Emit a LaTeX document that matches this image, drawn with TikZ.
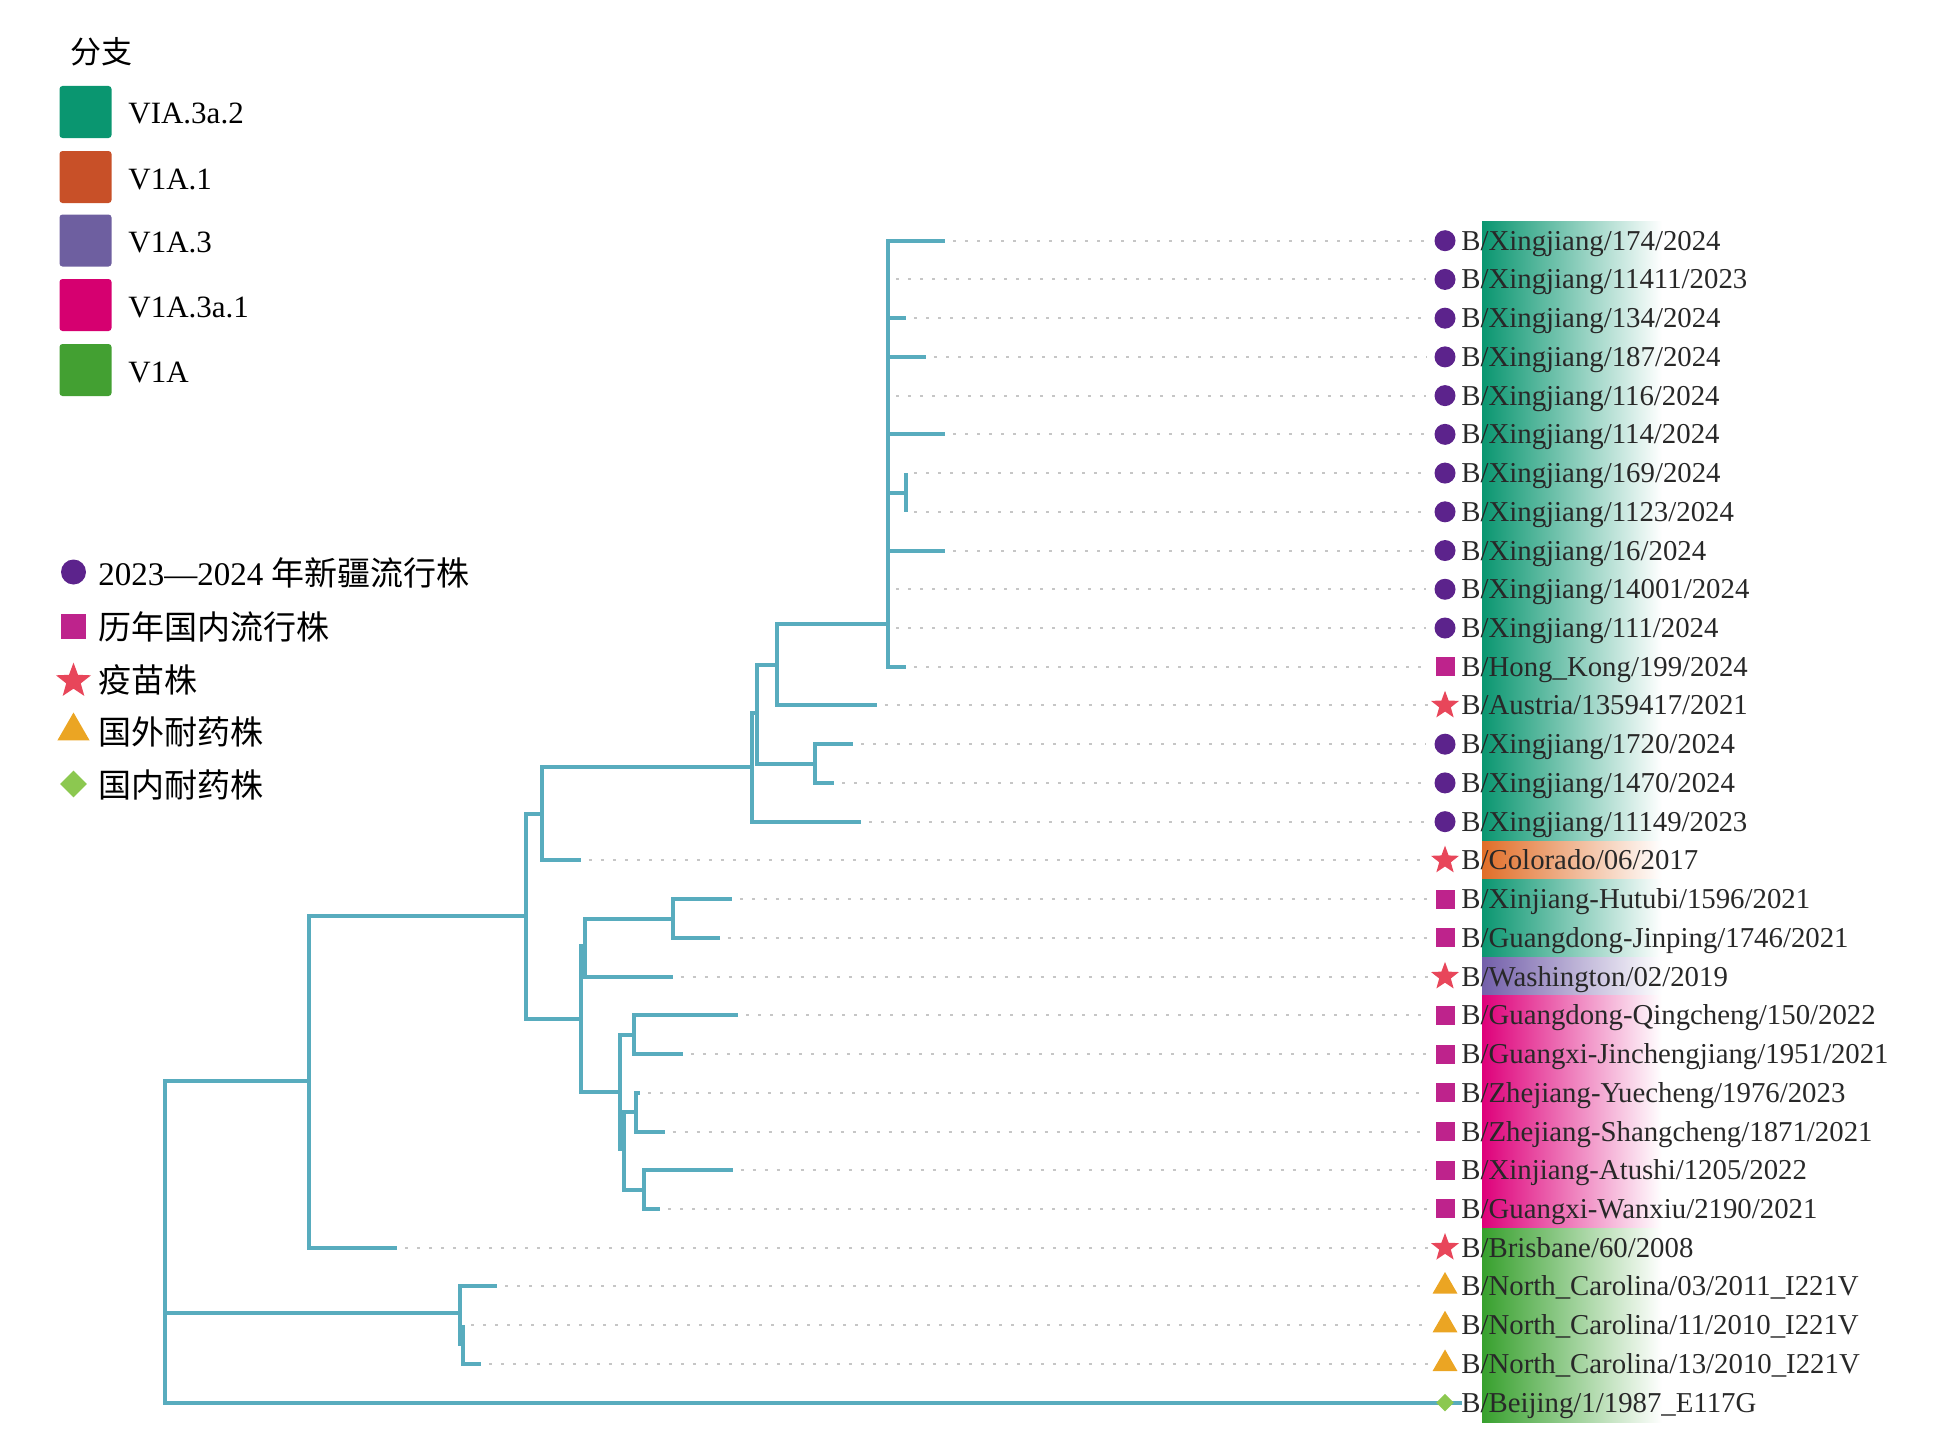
\documentclass[tikz,border=0pt]{standalone}
\usepackage{fontspec}
\setmainfont{Liberation Serif}
\newfontfamily\cjk{Noto Sans CJK SC}
\usetikzlibrary{shapes.geometric}
\definecolor{treec}{RGB}{88,172,190}
\definecolor{cpur}{RGB}{92,35,140}
\definecolor{csq}{RGB}{190,35,140}
\definecolor{cstar}{RGB}{232,70,90}
\definecolor{ctri}{RGB}{235,165,35}
\definecolor{cdia}{RGB}{140,200,80}
\definecolor{kA}{RGB}{10,150,112}
\definecolor{kB}{RGB}{200,80,40}
\definecolor{kC}{RGB}{110,95,160}
\definecolor{kD}{RGB}{214,0,112}
\definecolor{kE}{RGB}{67,160,50}
\definecolor{bA}{RGB}{10,150,112}
\definecolor{bB}{RGB}{225,110,40}
\definecolor{bC}{RGB}{115,95,170}
\definecolor{bD}{RGB}{222,0,122}
\definecolor{bE}{RGB}{55,160,45}
\definecolor{txt}{RGB}{40,40,40}
\newcommand\tiprow[3]{%
  \node[#2] (s#1) at (1445,{240.7+38.73*#1}) {};
  \node[lbl] (l#1) at (1461,{240.7+38.73*#1+9.5}) {B/#3};}
\begin{document}
\begin{tikzpicture}[x=0.5pt,y=-0.5pt,
  branch/.style={draw=treec,line width=2pt},
  leader/.style={draw=gray!45,line width=1pt,dash pattern=on 1.5pt off 4.5pt,shorten <=4pt,shorten >=4pt},
  lbl/.style={anchor=base west,inner sep=0pt,text=txt,font=\fontsize{14.4}{16}\selectfont},
  mcirc/.style={circle,fill=cpur,inner sep=0pt,minimum size=10.5pt},
  msq/.style={rectangle,fill=csq,inner sep=0pt,minimum size=9.5pt},
  mstar/.style={star,star points=5,star point ratio=2.4,fill=cstar,inner sep=0pt,minimum size=14.7pt},
  mtri/.style={regular polygon,regular polygon sides=3,fill=ctri,inner sep=0pt,minimum size=14.4pt},
  mdia/.style={diamond,fill=cdia,inner sep=0pt,minimum size=9pt},
  legsq/.style={rectangle,rounded corners=1.5pt,inner sep=0pt,minimum size=26pt},
  legtxt/.style={anchor=base west,inner sep=0pt,font=\fontsize{15.5}{18}\selectfont},
  legtxt2/.style={anchor=base west,inner sep=0pt,font=\fontsize{16.5}{19}\selectfont}]
\useasboundingbox (0,0) rectangle (1937,1445);

% ---- legend 1
\node[anchor=base west,inner sep=0pt,font=\cjk\fontsize{15.5}{18}\selectfont] (ttl) at (70,63.5) {分支};
\node[legsq,fill=kA] (k1) at (85.5,112) {};
\node[legsq,fill=kB] (k2) at (85.5,177) {};
\node[legsq,fill=kC] (k3) at (85.5,240.5) {};
\node[legsq,fill=kD] (k4) at (85.5,305) {};
\node[legsq,fill=kE] (k5) at (85.5,370) {};
\node[legtxt] (k1t) at (128,124) {VIA.3a.2};
\node[legtxt] (k2t) at (128,189) {V1A.1};
\node[legtxt] (k3t) at (128,252.5) {V1A.3};
\node[legtxt] (k4t) at (128,317) {V1A.3a.1};
\node[legtxt] (k5t) at (128,382) {V1A};

% ---- legend 2
\node[mcirc,minimum size=12.5pt] (m1) at (73.5,572) {};
\node[msq,minimum size=12.5pt] (m2) at (73.5,626) {};
\node[mstar,minimum size=18.4pt] (m3) at (73.5,681) {};
\node[mtri,minimum size=18.5pt] (m4) at (73.5,731) {};
\node[mdia,minimum size=13.5pt] (m5) at (73.5,784) {};
\node[legtxt2] (m1t) at (98,585) {2023—2024 {\cjk 年新疆流行株}};
\node[legtxt2] (m2t) at (98,639) {\cjk 历年国内流行株};
\node[legtxt2] (m3t) at (98,692) {\cjk 疫苗株};
\node[legtxt2] (m4t) at (98,744) {\cjk 国外耐药株};
\node[legtxt2] (m5t) at (98,797) {\cjk 国内耐药株};

% ---- colour bands
\shade[left color=bA,right color=white] (1482,221.3) rectangle (1662,841.1);
\shade[left color=bB,right color=white] (1482,841.1) rectangle (1662,879.8);
\shade[left color=bA,right color=white] (1482,879.8) rectangle (1662,957.2);
\shade[left color=bC,right color=white] (1482,957.2) rectangle (1662,995.9);
\shade[left color=bD,right color=white] (1482,995.9) rectangle (1662,1228.3);
\shade[left color=bE,right color=white] (1482,1228.3) rectangle (1662,1422.0);

% ---- tip coordinates
\foreach \i/\tx in {0/945,1/888,2/906,3/926,4/888,5/945,6/906,7/906,8/945,9/888,10/888,11/906,
  12/876.7,13/853,14/834,15/861,16/580.8,17/731.8,18/719.6,19/672.7,20/738,21/682.9,22/640,
  23/664.5,24/732.7,25/660.4,26/397.1,27/497,28/463,29/480.8,30/1462}
  \coordinate (t\i) at (\tx,{240.7+38.73*\i});

% ---- symbols and labels
\tiprow{0}{mcirc}{Xingjiang/174/2024}
\tiprow{1}{mcirc}{Xingjiang/11411/2023}
\tiprow{2}{mcirc}{Xingjiang/134/2024}
\tiprow{3}{mcirc}{Xingjiang/187/2024}
\tiprow{4}{mcirc}{Xingjiang/116/2024}
\tiprow{5}{mcirc}{Xingjiang/114/2024}
\tiprow{6}{mcirc}{Xingjiang/169/2024}
\tiprow{7}{mcirc}{Xingjiang/1123/2024}
\tiprow{8}{mcirc}{Xingjiang/16/2024}
\tiprow{9}{mcirc}{Xingjiang/14001/2024}
\tiprow{10}{mcirc}{Xingjiang/111/2024}
\tiprow{11}{msq}{Hong\_Kong/199/2024}
\tiprow{12}{mstar}{Austria/1359417/2021}
\tiprow{13}{mcirc}{Xingjiang/1720/2024}
\tiprow{14}{mcirc}{Xingjiang/1470/2024}
\tiprow{15}{mcirc}{Xingjiang/11149/2023}
\tiprow{16}{mstar}{Colorado/06/2017}
\tiprow{17}{msq}{Xinjiang-Hutubi/1596/2021}
\tiprow{18}{msq}{Guangdong-Jinping/1746/2021}
\tiprow{19}{mstar}{Washington/02/2019}
\tiprow{20}{msq}{Guangdong-Qingcheng/150/2022}
\tiprow{21}{msq}{Guangxi-Jinchengjiang/1951/2021}
\tiprow{22}{msq}{Zhejiang-Yuecheng/1976/2023}
\tiprow{23}{msq}{Zhejiang-Shangcheng/1871/2021}
\tiprow{24}{msq}{Xinjiang-Atushi/1205/2022}
\tiprow{25}{msq}{Guangxi-Wanxiu/2190/2021}
\tiprow{26}{mstar}{Brisbane/60/2008}
\tiprow{27}{mtri}{North\_Carolina/03/2011\_I221V}
\tiprow{28}{mtri}{North\_Carolina/11/2010\_I221V}
\tiprow{29}{mtri}{North\_Carolina/13/2010\_I221V}

% ---- leaders
\foreach \i in {0,...,29} \draw[leader] (t\i) -- (s\i);

% ---- internal nodes
\coordinate (root) at (164.5,1240);
\coordinate (P) at (309.4,1080.6);
\coordinate (O) at (525.7,916.4);
\coordinate (N) at (542,814);
\coordinate (A) at (751.7,767);
\coordinate (B) at (756.7,713);
\coordinate (C) at (776.7,665.2);
\coordinate (Q) at (888,623.7);
\coordinate (S) at (906,492.6);
\coordinate (D) at (815,763.6);
\coordinate (F) at (581,1018.9);
\coordinate (E) at (585,946);
\coordinate (R) at (672.7,918.5);
\coordinate (G) at (619.6,1091.7);
\coordinate (H) at (633.9,1034.6);
\coordinate (I) at (623.7,1148.9);
\coordinate (J) at (636,1112);
\coordinate (K) at (644,1189.5);
\coordinate (L) at (460.4,1313);
\coordinate (M) at (463,1344);

% ---- tree
\foreach \p/\c in {root/P,root/L,root/t30,P/O,P/t26,O/N,O/F,N/A,N/t16,A/B,A/t15,B/C,B/D,
  C/Q,C/t12,Q/t0,Q/t1,Q/t2,Q/t3,Q/t4,Q/t5,Q/S,Q/t8,Q/t9,Q/t10,Q/t11,S/t6,S/t7,D/t13,D/t14,
  F/E,F/G,E/R,E/t19,R/t17,R/t18,G/H,G/I,H/t20,H/t21,I/J,I/K,J/t22,J/t23,K/t24,K/t25,
  L/t27,L/M,M/t28,M/t29}
  \draw[branch] (\p) |- (\c);

% Beijing row symbol and label on top of its branch
\tiprow{30}{mdia}{Beijing/1/1987\_E117G}
\end{tikzpicture}
\end{document}
